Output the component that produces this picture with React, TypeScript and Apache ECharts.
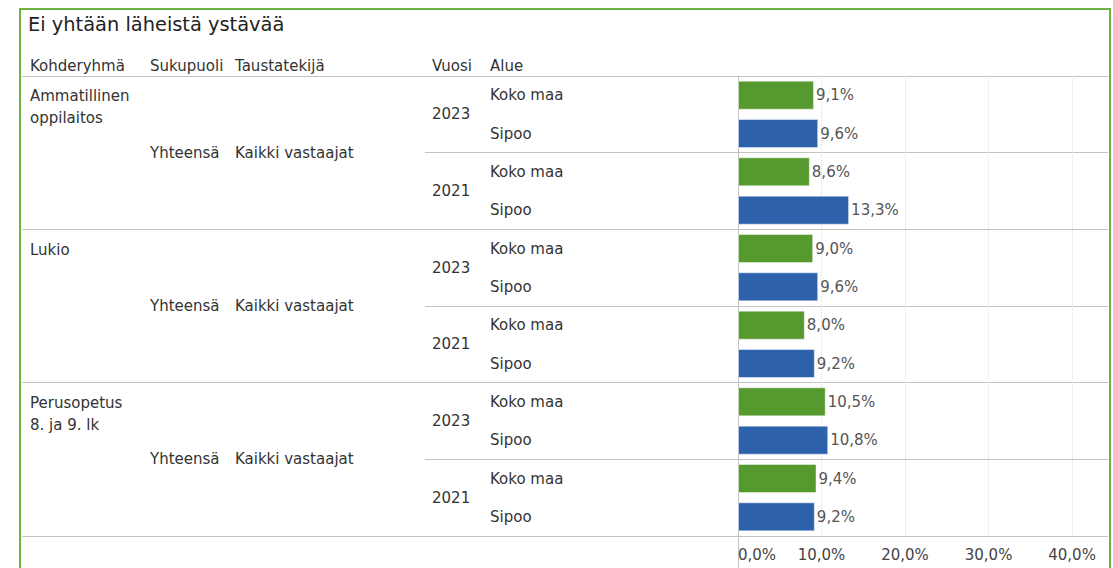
import React, { useEffect, useRef } from 'react';
import * as echarts from 'echarts';

const chartTitle = 'Ei yhtään läheistä ystävää';
const headers = ['Kohderyhmä', 'Sukupuoli', 'Taustatekijä', 'Vuosi', 'Alue'];
const kohderyhma = ['Ammatillinen\noppilaitos', 'Lukio', 'Perusopetus\n8. ja 9. lk'];
const sukupuoli = ['Yhteensä', 'Yhteensä', 'Yhteensä'];
const taustatekija = ['Kaikki vastaajat', 'Kaikki vastaajat', 'Kaikki vastaajat'];
const vuosi = ['2023', '2021', '2023', '2021', '2023', '2021'];
const alue = ['Koko maa', 'Sipoo'];
const kokoMaa = [9.1, 8.6, 9.0, 8.0, 10.5, 9.4];
const sipoo = [9.6, 13.3, 9.6, 9.2, 10.8, 9.2];

const FONT = 'DejaVu Sans';
const GREEN = '#55992f';
const BLUE = '#2e61ac';
const LINE = '#c4c4c4';

const rowAlue = vuosi.flatMap(() => alue);
const rowIds = rowAlue.map((_, i) => 'r' + i);
const kokoMaaRows = vuosi.flatMap((_, j) => [kokoMaa[j], null]);
const sipooRows = vuosi.flatMap((_, j) => [null, sipoo[j]]);
const kohderyhmaRows = kohderyhma.flatMap((k) => [k, '', '', '']);

const headerX = [30, 150, 235, 432, 490];

const fmtPct = (v: number) => v.toFixed(1).replace('.', ',') + '%';

export default function App() {
  const ref = useRef<HTMLDivElement>(null);
  useEffect(() => {
    const chart = echarts.init(ref.current!, null, { renderer: 'svg' });
    const textBase = { fontFamily: FONT, fontSize: 15, color: '#333' };
    const option: any = {
      animation: false,
      backgroundColor: '#fff',
      title: {
        text: chartTitle,
        left: 23,
        top: 10,
        textStyle: { fontFamily: FONT, fontSize: 19.4, fontWeight: 'normal', color: '#222' },
      },
      grid: [
        { left: 738, top: 76, width: 370, height: 460, outerBoundsMode: 'none' },
        { left: 22, top: 76, width: 1086, height: 460, outerBoundsMode: 'none' },
        { left: 425, top: 76, width: 683, height: 460, outerBoundsMode: 'none' },
        { left: 22, top: 66, width: 1086, height: 460, outerBoundsMode: 'none' },
      ],
      xAxis: [
        {
          gridIndex: 0,
          type: 'value',
          min: 0,
          max: 44.3,
          interval: 10,
          axisLine: { show: false },
          axisTick: { show: false },
          axisLabel: {
            ...textBase,
            color: '#444',
            margin: 11,
            showMaxLabel: false,
            alignMinLabel: 'left',
            formatter: (v: number) => fmtPct(v),
          },
          splitLine: {
            show: true,
            showMinLine: false,
            showMaxLine: false,
            lineStyle: { color: '#dcdcdc', type: 'dotted', width: 1 },
          },
        },
        { gridIndex: 1, type: 'value', show: false },
        { gridIndex: 2, type: 'value', show: false },
        { gridIndex: 3, type: 'value', show: false },
      ],
      yAxis: [
        {
          gridIndex: 0,
          type: 'category',
          position: 'left',
          offset: 0,
          data: rowIds,
          inverse: true,
          axisLine: { show: true, lineStyle: { color: LINE, width: 1 } },
          axisTick: { show: false },
          splitLine: { show: false },
          axisLabel: {
            ...textBase,
            interval: 0,
            margin: 248,
            align: 'left',
            formatter: (_v: string, i: number) => rowAlue[i],
          },
        },
        {
          gridIndex: 1,
          type: 'category',
          position: 'left',
          offset: 0,
          data: sukupuoli.map((_, i) => 'g' + i),
          inverse: true,
          axisLine: { show: false },
          axisTick: { show: false },
          splitLine: { show: true, lineStyle: { color: LINE, width: 1 } },
          axisLabel: {
            ...textBase,
            interval: 0,
            inside: true,
            margin: 128,
            align: 'left',
            formatter: (_v: string, i: number) => sukupuoli[i],
          },
        },
        {
          gridIndex: 1,
          type: 'category',
          position: 'left',
          offset: 0,
          data: taustatekija.map((_, i) => 't' + i),
          inverse: true,
          axisLine: { show: false },
          axisTick: { show: false },
          splitLine: { show: false },
          axisLabel: {
            ...textBase,
            interval: 0,
            inside: true,
            margin: 213,
            align: 'left',
            formatter: (_v: string, i: number) => taustatekija[i],
          },
        },
        {
          gridIndex: 3,
          type: 'category',
          position: 'left',
          offset: 0,
          data: rowIds,
          inverse: true,
          axisLine: { show: false },
          axisTick: { show: false },
          splitLine: { show: false },
          axisLabel: {
            ...textBase,
            interval: 0,
            inside: true,
            margin: 8,
            align: 'left',
            verticalAlign: 'top',
            lineHeight: 22,
            formatter: (_v: string, i: number) => kohderyhmaRows[i],
          },
        },
        {
          gridIndex: 2,
          type: 'category',
          position: 'left',
          offset: 0,
          data: vuosi.map((_, i) => 'v' + i),
          inverse: true,
          axisLine: { show: false },
          axisTick: { show: false },
          splitLine: { show: true, lineStyle: { color: LINE, width: 1 } },
          axisLabel: {
            ...textBase,
            interval: 0,
            inside: true,
            margin: 7,
            align: 'left',
            formatter: (_v: string, i: number) => vuosi[i],
          },
        },
      ],
      series: [
        {
          name: alue[0],
          type: 'bar',
          xAxisIndex: 0,
          yAxisIndex: 0,
          data: kokoMaaRows,
          barWidth: 29,
          barGap: '-100%',
          itemStyle: { color: GREEN, borderColor: 'rgba(255,255,255,0.45)', borderWidth: 1 },
          label: {
            show: true,
            position: 'right',
            distance: 2,
            fontFamily: FONT,
            fontSize: 15,
            color: '#555',
            formatter: (p: any) => fmtPct(p.value),
          },
        },
        {
          name: alue[1],
          type: 'bar',
          xAxisIndex: 0,
          yAxisIndex: 0,
          data: sipooRows,
          barWidth: 29,
          barGap: '-100%',
          itemStyle: { color: BLUE, borderColor: 'rgba(255,255,255,0.45)', borderWidth: 1 },
          label: {
            show: true,
            position: 'right',
            distance: 2,
            fontFamily: FONT,
            fontSize: 15,
            color: '#555',
            formatter: (p: any) => fmtPct(p.value),
          },
        },
      ],
      graphic: [
        {
          type: 'rect',
          shape: { x: 20, y: 9, width: 1090, height: 600 },
          style: { fill: 'none', stroke: '#6db33f', lineWidth: 2 },
          silent: true,
        },
        {
          type: 'line',
          shape: { x1: 738.5, y1: 536, x2: 738.5, y2: 568 },
          style: { stroke: LINE, lineWidth: 1 },
          silent: true,
        },
        ...headers.map((h, i) => ({
          type: 'text',
          x: headerX[i],
          y: 66,
          style: {
            text: h,
            fontFamily: FONT,
            fontSize: 15,
            fill: '#333',
            textAlign: 'left',
            textVerticalAlign: 'middle',
          },
          silent: true,
        })),
      ],
    };
    chart.setOption(option);
    return () => chart.dispose();
  }, []);
  return (
    <div
      ref={ref}
      style={{ position: 'fixed', left: 0, top: 0, width: 1113, height: 568, background: '#fff' }}
    />
  );
}
